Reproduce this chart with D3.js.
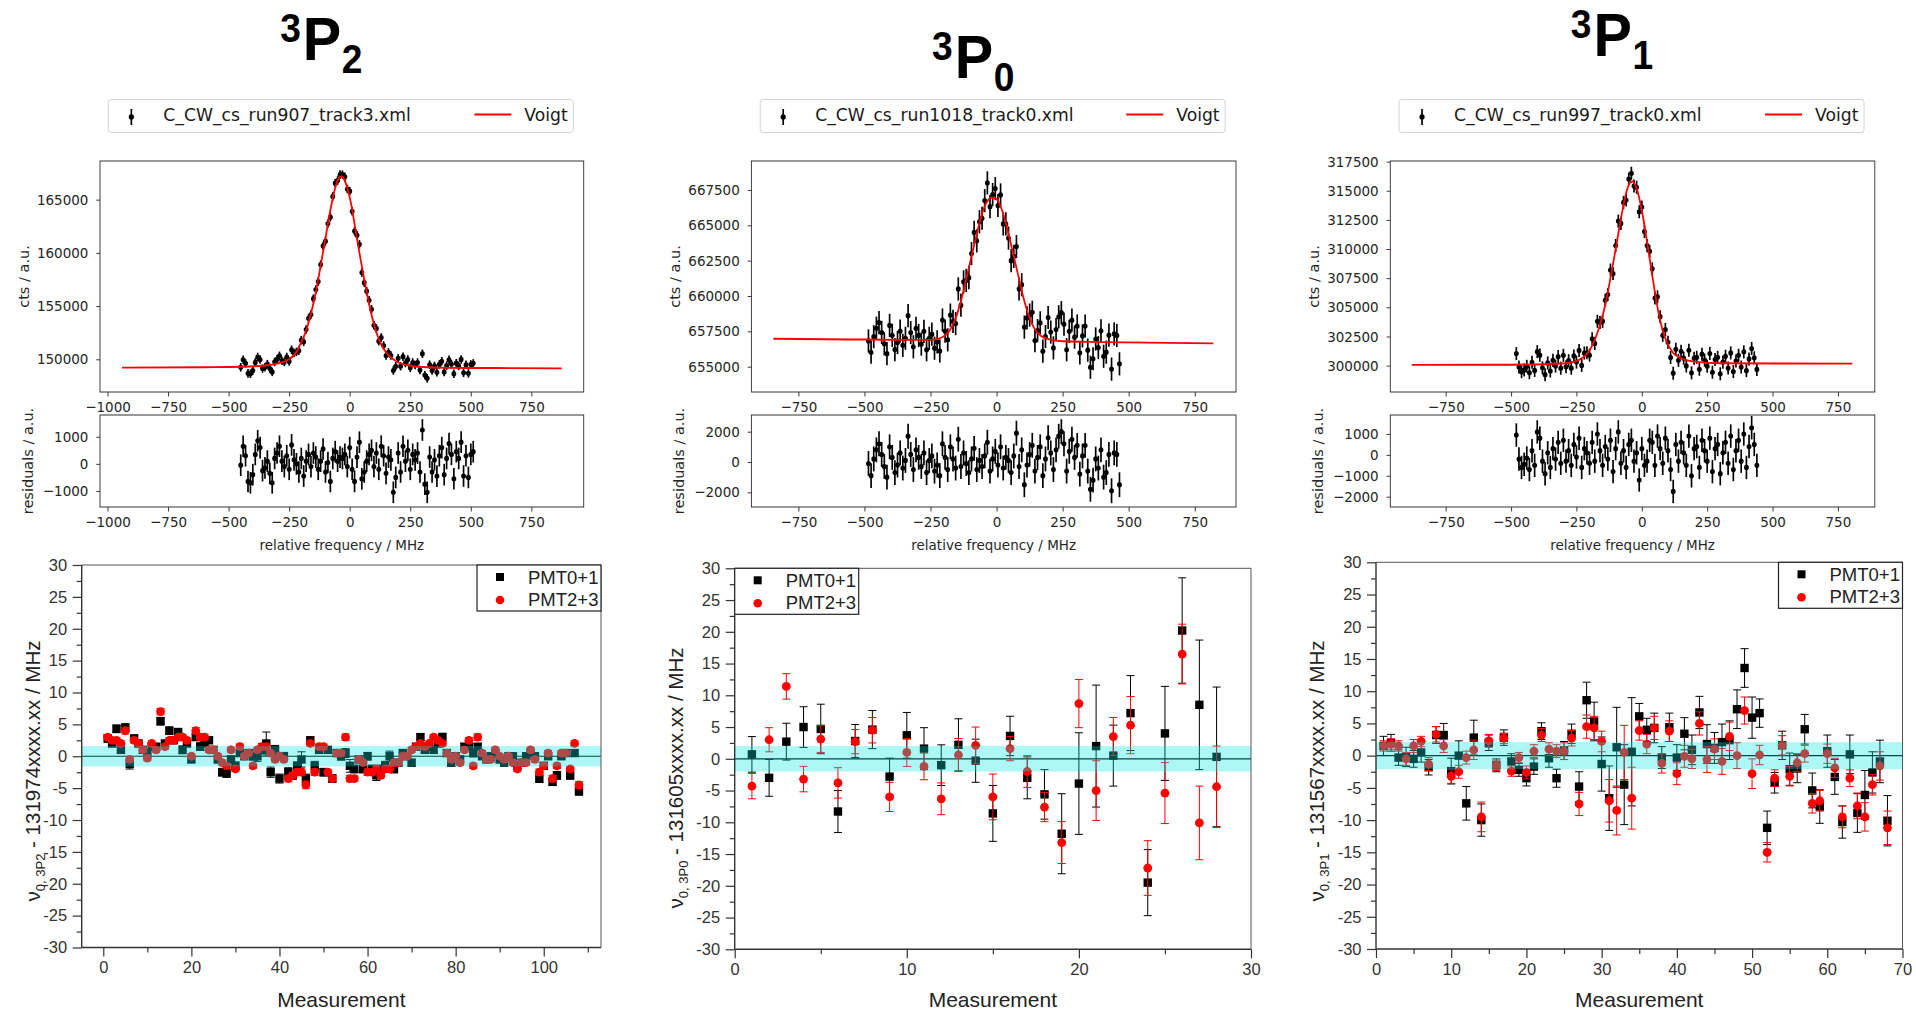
<!DOCTYPE html>
<html>
<head>
<meta charset="utf-8">
<script src="https://cdn.jsdelivr.net/npm/d3@7"></script>
<style>
  body { margin: 0; background: #fff; }
  svg { display: block; }
</style>
</head>
<body>
<svg id="chart" width="1916" height="1013"></svg>
<script>
// ---------------- Spectra: counts vs. relative frequency (MHz) ----------------
const scanFiles = ["C_CW_cs_run907_track3.xml", "C_CW_cs_run1018_track0.xml", "C_CW_cs_run997_track0.xml"];
const levelSup = ["3", "3", "3"];
const levelTerm = ["P", "P", "P"];
const levelSub = ["2", "0", "1"];

const freq1 = [-450,-440,-430,-420,-410,-400,-390,-380,-370,-360,
  -350,-340,-330,-320,-310,-300,-290,-280,-270,-260,
  -250,-240,-230,-220,-210,-200,-190,-180,-170,-160,
  -150,-140,-130,-120,-110,-100,-90,-80,-70,-60,
  -50,-40,-30,-20,-10,0,10,20,30,40,
  50,60,70,80,90,100,110,120,130,140,
  150,160,170,180,190,200,210,220,230,240,
  250,260,270,280,290,300,310,320,330,340,
  350,360,370,380,390,400,410,420,430,440,
  450,460,470,480,490,500,510];
const counts1 = [149250,149960,149620,148680,148640,148950,149710,150220,149980,149140,
  149250,149550,149130,148820,149760,150000,150330,149860,149750,150220,
  149800,150900,150600,150700,150800,151800,151650,152800,153850,154200,
  155700,156550,157300,158900,160650,161100,162750,163350,165300,166550,
  166800,167350,167350,167150,166000,165800,163900,162050,161650,160800,
  158150,157200,156400,155550,154700,153200,152900,151700,152050,151300,
  150350,150650,150350,148950,149350,150100,149350,150250,149650,149980,
  149200,149700,149470,149700,148990,150530,148520,148210,149500,148940,
  149380,148780,149520,149820,148810,149400,149950,149550,148650,149640,
  149390,149990,148730,149480,148680,149520,149620];
const resid1 = [-50,650,300,-650,-700,-400,350,850,600,-250,
  -150,100,-350,-700,200,400,650,100,-100,300,
  -200,700,150,0,-300,200,-450,100,350,-100,
  400,250,-200,100,550,-300,50,-650,200,450,
  100,250,200,350,-100,600,-200,-650,250,800,
  -550,-300,100,350,500,-100,400,-200,650,300,
  -350,250,150,-1050,-500,400,-300,650,100,500,
  -200,350,150,400,-300,1250,-750,-1050,250,-300,
  150,-450,300,600,-400,200,750,350,-550,450,
  200,800,-450,300,-500,350,450];
const fitFreq1 = [-940,-600,-450,-350,-300,-250,-220,-200,-180,-160,
  -140,-120,-100,-80,-60,-45,-35,-25,-10,5,
  20,40,60,80,100,120,140,160,180,200,
  250,300,400,600,875];
const fitCounts1 = [149220,149260,149300,149420,149600,150000,150700,151600,152700,154300,
  156300,158800,161400,164000,166100,167000,167200,167000,166100,164700,
  162700,160000,157500,155200,153300,151900,151000,150400,150000,149700,
  149400,149280,149200,149180,149150];

const freq2 = [-485,-475,-465,-455,-445,-435,-425,-415,-405,-395,
  -385,-375,-365,-355,-345,-335,-325,-315,-305,-295,
  -285,-275,-265,-255,-245,-235,-225,-215,-205,-195,
  -185,-175,-165,-155,-145,-135,-125,-115,-105,-95,
  -85,-75,-65,-55,-45,-35,-25,-15,-5,5,
  15,25,35,45,55,65,75,85,95,105,
  115,125,135,145,155,165,175,185,195,205,
  215,225,235,245,255,265,275,285,295,305,
  315,325,335,345,355,365,375,385,395,405,
  415,425,435,445,455,465];
const counts2 = [656820,656020,657120,657720,658120,657420,656620,655920,657920,657220,
  656210,656710,657510,656510,657010,658610,657410,656410,657710,657210,
  656600,657500,656200,657000,657300,656310,656750,656110,658300,657520,
  656900,658650,658200,658050,660500,659350,661000,661100,661300,663000,
  664500,663900,665250,665500,666750,668000,666320,667180,667600,666400,
  667150,665100,665100,664100,662500,662800,663500,660500,660800,657800,
  658450,658650,658850,656850,657550,658100,656100,657130,658480,657450,
  656330,657630,658530,658820,658010,656200,657500,658290,657090,657880,
  655980,657180,657880,656170,654960,655560,656960,656350,657540,655740,
  656030,657230,654830,657320,657210,655200];
const resid2 = [-100,-900,200,800,1200,500,-300,-1000,1000,300,
  -700,-200,600,-400,100,1700,500,-500,800,300,
  -300,600,-700,100,400,-600,-200,-900,1200,300,
  -500,1000,200,-400,1500,-300,600,-100,-700,200,
  900,-500,100,-300,400,1300,-600,200,700,-200,
  1000,-400,300,100,-700,400,1900,-300,800,-1500,
  -200,500,1100,-600,300,1000,-900,200,1600,600,
  -500,800,1700,2000,1200,-600,700,1500,300,1100,
  -800,400,1100,-600,-1800,-1200,200,-400,800,-1000,
  -700,500,-1900,600,500,-1500];
const fitFreq2 = [-845,-500,-300,-250,-225,-200,-180,-160,-140,-120,
  -100,-80,-60,-40,-20,-10,0,20,40,60,
  80,100,120,140,160,180,200,250,400,820];
const fitCounts2 = [656980,656920,656900,656900,656950,657150,657500,658200,659300,660800,
  662400,664000,665500,666550,666950,666950,666850,666100,664800,663200,
  661600,660000,658700,657800,657300,657050,656930,656800,656740,656650];

const freq3 = [-480,-470,-460,-450,-440,-430,-420,-410,-400,-390,
  -380,-370,-360,-350,-340,-330,-320,-310,-300,-290,
  -280,-270,-260,-250,-240,-230,-220,-210,-200,-190,
  -180,-170,-160,-150,-140,-130,-120,-110,-100,-90,
  -80,-70,-60,-50,-40,-30,-20,-10,0,10,
  20,30,40,50,60,70,80,90,100,110,
  120,130,140,150,160,170,180,190,200,210,
  220,230,240,250,260,270,280,290,300,310,
  320,330,340,350,360,370,380,390,400,410,
  420,430,440];
const counts3 = [301030,299880,299480,299630,299940,299390,300290,299590,301200,300900,
  299810,299220,300230,299540,300450,299960,300770,299780,300880,299900,
  300430,299780,300830,300300,301300,300020,301080,301100,300900,302300,
  301900,303800,303700,303800,305600,306100,308200,307900,310300,312400,
  312200,314000,314200,316000,316500,315400,315300,313200,313600,311500,
  310300,309800,308300,305800,305900,304200,302600,303100,302000,300700,
  299350,301400,300450,301230,300640,299970,301320,299380,300640,300710,
  299690,300980,300470,299950,301040,299430,300520,300710,299300,300300,
  300800,299790,301090,299490,300390,300890,299880,301180,299570,300570,
  301470,300670,299670];
const resid3 = [950,-200,-600,-450,-150,-700,200,-500,1100,800,
  -300,-900,100,-600,300,-200,600,-400,700,-300,
  200,-500,500,-100,800,-600,300,100,-400,600,
  -300,1000,200,-500,400,-200,700,-800,300,1100,
  -400,200,-600,500,700,-300,100,-1200,300,-500,
  -300,700,600,-500,900,300,-400,800,200,-700,
  -1750,500,-300,600,100,-500,900,-1000,300,400,
  -600,700,200,-300,800,-800,300,500,-900,100,
  600,-400,900,-700,200,700,-300,1000,-600,400,
  1300,500,-500];
const fitFreq3 = [-880,-500,-300,-260,-240,-220,-200,-180,-160,-140,
  -120,-100,-80,-60,-45,-35,-20,0,20,40,
  60,80,100,120,140,160,200,300,805];
const fitCounts3 = [300060,300080,300180,300330,300500,300780,301300,302200,303500,305200,
  307500,310000,312600,314800,315700,315800,315200,313300,310600,307700,
  305000,303000,301800,301100,300750,300540,300340,300200,300170];

// counting uncertainty of a single bin, per scan
const countErr = [400, 820, 560];

const freqTicks = [-1000, -750, -500, -250, 0, 250, 500, 750];
const countTicks1 = [150000, 155000, 160000, 165000];
const countTicks2 = [655000, 657500, 660000, 662500, 665000, 667500];
const countTicks3 = [300000, 302500, 305000, 307500, 310000, 312500, 315000, 317500];
const residTicks1 = [-1000, 0, 1000];
const residTicks2 = [-2000, 0, 2000];
const residTicks3 = [-2000, -1000, 0, 1000];

// ---------------- Centroid per measurement, two detector pairs ----------------
const pmtA1 = [2.8,2.0,4.3,1.0,4.5,-1.2,2.8,2.0,1.0,0.5,
  1.5,1.5,5.5,2.0,4.0,2.5,3.8,1.0,2.0,-0.5,
  3.0,1.5,2.0,2.5,1.0,-0.5,-2.5,-2.7,-0.5,-1.5,
  0.5,0.0,0.5,0.0,0.0,1.0,2.0,-2.5,1.0,-3.5,
  0.0,-2.5,-3.0,-1.5,-0.5,-3.5,2.5,-1.5,1.0,-2.5,
  1.0,-3.5,0.5,0.0,0.5,-1.5,-2.0,-0.5,-2.0,0.0,
  -2.0,-3.0,-2.0,-1.5,0.0,-2.0,-1.0,0.5,0.0,-1.0,
  1.5,3.0,1.0,1.5,1.0,2.0,3.0,0.5,-1.0,0.0,
  -0.5,1.5,1.5,0.5,1.5,0.0,-0.5,0.0,0.5,-0.5,
  -1.0,0.0,0.0,-1.5,-1.0,0.0,0.5,0.0,-3.5,-1.5,
  0.0,-4.0,-3.0,0.0,0.5,-3.0,0.5,-5.5];
const errA1 = [0.6,0.5,0.6,0.5,0.6,0.8,0.5,0.5,0.5,0.5,
  0.5,0.5,0.6,0.5,0.6,0.5,0.5,0.6,0.5,0.5,
  0.5,0.6,0.5,0.5,0.5,0.5,0.6,0.6,0.5,0.6,
  0.5,0.5,0.5,0.6,0.8,0.6,1.8,0.8,0.7,0.7,
  0.6,0.7,0.6,0.6,1.2,0.7,0.6,0.7,0.5,0.6,
  0.5,0.6,0.5,0.6,0.7,1.0,0.6,0.5,0.6,0.6,
  0.6,0.8,0.6,0.7,0.8,0.6,0.5,0.5,0.5,0.5,
  0.5,0.5,0.5,0.5,0.5,0.5,0.6,0.5,0.5,0.5,
  0.5,0.5,0.5,0.6,0.5,0.5,0.5,0.5,0.5,0.5,
  0.5,0.5,0.5,0.5,0.5,0.5,0.6,0.5,0.6,0.5,
  0.5,0.6,0.6,0.5,0.5,0.6,0.5,0.6];
const pmtB1 = [3.0,2.5,2.5,2.0,4.0,-0.5,2.5,2.0,1.0,-0.3,
  2.0,1.0,7.0,1.5,2.5,2.5,3.0,3.0,2.5,0.0,
  4.0,3.0,3.0,1.0,1.0,0.0,-1.0,-1.5,1.0,-2.0,
  1.5,0.0,0.5,-1.5,1.0,1.5,1.5,0.5,-0.5,0.0,
  -0.5,-3.5,-3.0,-2.5,-2.5,-4.5,2.0,-2.5,1.5,1.5,
  -2.5,-3.5,0.5,0.5,3.0,-3.5,-3.5,-0.5,-1.0,-2.5,
  -2.5,-2.0,-3.0,-2.0,-2.0,-1.0,-1.0,0.0,0.0,1.0,
  1.5,2.0,1.5,2.0,3.0,2.5,2.0,0.5,-0.5,0.0,
  -1.0,1.0,2.5,-1.5,3.0,0.5,-0.5,-0.5,1.0,0.0,
  -0.5,0.0,-1.0,-2.0,-1.0,-1.0,1.0,-0.5,-2.5,-1.5,
  0.5,-3.5,-1.5,0.5,0.5,-2.0,2.0,-4.5];
const errB1 = [0.4,0.4,0.4,0.4,0.5,0.4,0.4,0.4,0.4,0.4,
  0.4,0.4,0.5,0.4,0.4,0.4,0.4,0.4,0.4,0.4,
  0.5,0.4,0.4,0.4,0.4,0.4,0.4,0.4,0.4,0.4,
  0.4,0.4,0.4,0.4,0.4,0.5,0.5,0.4,0.4,0.5,
  0.4,0.5,0.4,0.5,0.5,0.6,0.4,0.5,0.4,0.4,
  0.4,0.5,0.4,0.4,0.5,0.5,0.4,0.4,0.4,0.5,
  0.4,0.5,0.4,0.4,0.5,0.4,0.4,0.4,0.4,0.4,
  0.4,0.4,0.4,0.4,0.4,0.4,0.4,0.4,0.4,0.4,
  0.4,0.4,0.4,0.4,0.5,0.4,0.4,0.4,0.4,0.4,
  0.4,0.4,0.4,0.4,0.4,0.4,0.4,0.4,0.5,0.4,
  0.4,0.5,0.4,0.4,0.4,0.4,0.4,0.5];

const pmtA2 = [0.7,-3.0,2.7,5.0,4.7,-8.3,2.8,4.6,-2.8,3.7,
  1.6,-1.0,2.2,-0.3,-8.6,3.6,-3.0,-5.6,-11.8,-3.9,
  2.0,0.5,7.2,-19.5,4.0,20.2,8.5,0.3];
const errA2 = [2.8,2.9,2.9,3.2,3.9,3.3,2.6,3.0,2.9,3.6,
  3.3,3.2,4.1,3.4,4.4,3.1,3.3,3.9,6.3,8.0,
  9.6,4.8,5.9,5.2,7.4,8.3,10.2,11.0];
const pmtB2 = [-4.3,3.0,11.4,-3.2,3.1,-3.8,2.7,4.5,-6.0,1.0,
  -1.2,-6.3,0.6,2.1,-6.0,1.6,-2.0,-7.6,-13.2,8.7,
  -5.0,3.5,5.3,-17.2,-5.4,16.5,-10.1,-4.4];
const errB2 = [2.0,1.9,2.0,2.0,2.1,2.4,1.9,2.0,2.3,2.2,
  2.1,2.5,2.6,2.9,3.6,1.9,2.5,2.3,3.3,3.8,
  4.7,3.0,4.5,4.3,4.8,4.7,5.8,6.4];

const pmtA3 = [1.5,2.0,-0.3,-0.2,-0.5,0.5,-1.8,3.2,3.2,-2.4,
  0.0,-7.4,2.8,-10.0,2.0,-1.5,2.8,-0.9,-2.2,-3.5,
  -1.7,3.8,-0.4,-3.5,0.8,3.4,-4.8,8.6,5.3,-1.3,
  -6.6,1.3,-4.5,0.6,6.1,4.0,4.3,-0.3,4.4,-0.3,
  3.4,0.9,6.7,1.8,1.2,2.1,2.4,7.2,13.6,5.9,
  6.6,-11.2,-4.2,1.6,-2.1,-2.0,4.1,-5.4,-7.9,0.7,
  -3.3,-10.3,0.2,-8.9,-6.1,-2.6,-0.9,-10.1];
const errA3 = [1.5,1.3,1.2,1.5,1.3,1.5,1.2,1.3,1.8,2.0,
  2.3,2.6,2.7,2.5,1.2,1.0,1.2,1.2,1.0,1.2,
  1.2,1.3,1.4,1.4,1.4,1.5,2.3,2.8,3.0,4.2,
  5.0,6.2,6.2,8.4,2.0,1.8,2.3,1.7,2.2,2.0,
  2.5,2.3,2.5,3.0,2.4,2.8,3.0,3.0,3.0,3.2,
  2.2,2.6,1.6,2.2,2.5,2.2,2.3,2.7,2.6,2.5,
  2.7,2.5,3.0,3.0,3.8,3.2,3.3,3.9];
const pmtB3 = [1.5,1.8,1.5,-0.5,1.5,2.2,-1.3,3.3,1.5,-3.2,
  -2.5,-0.3,0.9,-9.5,2.3,-1.5,2.7,-2.4,-0.3,-2.6,
  0.7,3.2,1.0,0.7,0.7,2.7,-7.5,4.5,4.3,2.2,
  -7.0,-8.5,0.5,-6.6,3.9,1.8,4.3,-1.2,3.8,-2.8,
  -0.1,-0.5,5.0,-0.6,1.0,-0.9,3.0,0.0,7.0,-2.8,
  0.1,-15.0,-3.5,1.6,-3.2,-1.1,0.3,-7.4,-7.0,0.3,
  -1.9,-9.5,-3.5,-7.8,-9.5,-4.5,-1.6,-11.2];
const errB3 = [0.8,0.8,0.8,1.0,1.0,0.8,1.0,1.2,1.0,1.1,
  1.0,1.0,1.5,2.3,1.0,0.8,0.8,0.8,0.8,1.0,
  1.0,1.0,1.0,1.0,1.3,1.2,1.8,1.8,1.8,1.6,
  3.3,3.8,4.2,4.8,1.5,1.5,1.8,1.5,1.6,1.7,
  1.7,1.5,1.8,2.0,1.6,2.0,2.2,2.0,2.1,2.3,
  1.5,1.5,1.3,1.5,1.5,1.4,1.3,1.5,1.6,1.5,
  1.5,1.7,1.3,2.0,2.2,1.6,2.2,2.6];

// weighted-mean uncertainty band (MHz) and frequency offsets of each level
const bandHalfWidth = [1.6, 2.0, 2.1];
const offsetLabels = ["131974xxxx.xx", "131605xxxx.xx", "131567xxxx.xx"];
const subLabels = ["0, 3P2", "0, 3P0", "0, 3P1"];
const seriesNames = ["PMT0+1", "PMT2+3"];
const runTicks1 = [0, 20, 40, 60, 80, 100];
const runTicks2 = [0, 10, 20, 30];
const runTicks3 = [0, 10, 20, 30, 40, 50, 60, 70];
const shiftTicks = [-30, -25, -20, -15, -10, -5, 0, 5, 10, 15, 20, 25, 30];

// ============================ drawing ============================
const svg = d3.select("#chart");
const MPL = "'DejaVu Sans', sans-serif";
const ARIAL = "'Liberation Sans', Arial, sans-serif";
const K = 0.93; // horizontal squeeze of the upper (spectrum) block
const upper = svg.append("g").attr("transform", `scale(${K},1)`);

const scans = [
  {freq: freq1, counts: counts1, resid: resid1, fitF: fitFreq1, fitC: fitCounts1,
   left: 100, right: 583.7, xDomain: [-1031, 966], yDomain: [146930, 168630], rDomain: [-1593, 1804],
   yTicks: countTicks1, rTicks: residTicks1, titleBase: 60},
  {freq: freq2, counts: counts2, resid: resid2, fitF: fitFreq2, fitC: fitCounts2,
   left: 751.4, right: 1236, xDomain: [-928, 906], yDomain: [653210, 669550], rDomain: [-2970, 3100],
   yTicks: countTicks2, rTicks: residTicks2, titleBase: 78},
  {freq: freq3, counts: counts3, resid: resid3, fitF: fitFreq3, fitC: fitCounts3,
   left: 1390.3, right: 1874.8, xDomain: [-962, 891], yDomain: [297737, 317552], rDomain: [-2493, 1909],
   yTicks: countTicks3, rTicks: residTicks3, titleBase: 56}
];

function styleMpl(sel) {
  sel.select(".domain").remove();
  sel.selectAll(".tick line").attr("stroke", "#333").attr("stroke-width", 1);
  sel.selectAll(".tick text").attr("fill", "#262626").attr("font-family", MPL).attr("font-size", 14.5);
}

scans.forEach((s, i) => {
  const L = s.left / K, R = s.right / K, cx = (L + R) / 2;
  const x = d3.scaleLinear().domain(s.xDomain).range([L, R]);
  const y = d3.scaleLinear().domain(s.yDomain).range([392, 161]);
  const yr = d3.scaleLinear().domain(s.rDomain).range([507, 415]);
  const g = upper.append("g");
  const idx = d3.range(s.freq.length);
  const e = countErr[i];
  const xt = freqTicks.filter(v => v >= s.xDomain[0] && v <= s.xDomain[1]);

  // title  ^3P_J
  const tx = (s.left + s.right) / 2 / K - 39 / K;
  g.append("text").attr("x", tx - 2 / K).attr("y", s.titleBase - 18).attr("text-anchor", "end")
    .attr("font-family", ARIAL).attr("font-weight", "bold").attr("font-size", 40).text(levelSup[i]);
  g.append("text").attr("x", tx).attr("y", s.titleBase)
    .attr("font-family", ARIAL).attr("font-weight", "bold").attr("font-size", 62).text(levelTerm[i]);
  g.append("text").attr("x", tx + 39 / K).attr("y", s.titleBase + 13)
    .attr("font-family", ARIAL).attr("font-weight", "bold").attr("font-size", 40).text(levelSub[i]);

  // legend
  const lb = (s.left + s.right) / 2 - 1 - 232.5;
  const lg = g.append("g");
  lg.append("rect").attr("x", lb / K).attr("y", 99.5).attr("width", 465 / K).attr("height", 33)
    .attr("rx", 3 / K).attr("ry", 3).attr("fill", "#fff").attr("stroke", "#d0d0d0");
  lg.append("line").attr("x1", (lb + 23) / K).attr("x2", (lb + 23) / K).attr("y1", 109).attr("y2", 125)
    .attr("stroke", "#000").attr("stroke-width", 1.8);
  lg.append("circle").attr("cx", (lb + 23) / K).attr("cy", 117).attr("r", 2.8).attr("fill", "#000");
  lg.append("text").attr("x", (lb + 55) / K).attr("y", 121).attr("font-family", MPL).attr("font-size", 18.5)
    .attr("fill", "#1a1a1a").text(scanFiles[i]);
  lg.append("line").attr("x1", (lb + 366) / K).attr("x2", (lb + 403) / K).attr("y1", 114.5).attr("y2", 114.5)
    .attr("stroke", "#ff0000").attr("stroke-width", 2);
  lg.append("text").attr("x", (lb + 416) / K).attr("y", 121).attr("font-family", MPL).attr("font-size", 18.5)
    .attr("fill", "#1a1a1a").text("Voigt");

  // spectrum panel
  const pts = g.append("g");
  pts.selectAll("line").data(idx).join("line")
    .attr("x1", j => x(s.freq[j])).attr("x2", j => x(s.freq[j]))
    .attr("y1", j => y(s.counts[j] - e)).attr("y2", j => y(s.counts[j] + e))
    .attr("stroke", "#000").attr("stroke-width", 1.8);
  pts.selectAll("circle").data(idx).join("circle")
    .attr("cx", j => x(s.freq[j])).attr("cy", j => y(s.counts[j])).attr("r", 2.6).attr("fill", "#000");
  const fitLine = d3.line().x(j => x(s.fitF[j])).y(j => y(s.fitC[j])).curve(d3.curveMonotoneX);
  g.append("path").attr("d", fitLine(d3.range(s.fitF.length)))
    .attr("fill", "none").attr("stroke", "#ff0000").attr("stroke-width", 1.9);
  g.append("rect").attr("x", L).attr("y", 161).attr("width", R - L).attr("height", 231)
    .attr("fill", "none").attr("stroke", "#333").attr("stroke-width", 1);
  g.append("g").attr("transform", "translate(0,392)")
    .call(d3.axisBottom(x).tickValues(xt).tickSize(4.5).tickPadding(5).tickFormat(d3.format("d"))).call(styleMpl);
  g.append("g").attr("transform", `translate(${L},0)`)
    .call(d3.axisLeft(y).tickValues(s.yTicks).tickSize(4).tickPadding(8.5).tickFormat(d3.format("d"))).call(styleMpl);
  g.append("text").attr("transform", `translate(${(s.left - 71) / K},276.5) rotate(-90)`)
    .attr("text-anchor", "middle").attr("font-family", MPL).attr("font-size", 14.5).attr("fill", "#262626")
    .text("cts / a.u.");

  // residual panel
  const rp = g.append("g");
  rp.selectAll("line").data(idx).join("line")
    .attr("x1", j => x(s.freq[j])).attr("x2", j => x(s.freq[j]))
    .attr("y1", j => yr(s.resid[j] - e)).attr("y2", j => yr(s.resid[j] + e))
    .attr("stroke", "#000").attr("stroke-width", 1.8);
  rp.selectAll("circle").data(idx).join("circle")
    .attr("cx", j => x(s.freq[j])).attr("cy", j => yr(s.resid[j])).attr("r", 2.6).attr("fill", "#000");
  g.append("rect").attr("x", L).attr("y", 415).attr("width", R - L).attr("height", 92)
    .attr("fill", "none").attr("stroke", "#333").attr("stroke-width", 1);
  g.append("g").attr("transform", "translate(0,507)")
    .call(d3.axisBottom(x).tickValues(xt).tickSize(4.5).tickPadding(5).tickFormat(d3.format("d"))).call(styleMpl);
  g.append("g").attr("transform", `translate(${L},0)`)
    .call(d3.axisLeft(yr).tickValues(s.rTicks).tickSize(4).tickPadding(8.5).tickFormat(d3.format("d"))).call(styleMpl);
  g.append("text").attr("transform", `translate(${(s.left - 67) / K},461) rotate(-90)`)
    .attr("text-anchor", "middle").attr("font-family", MPL).attr("font-size", 14.5).attr("fill", "#262626")
    .text("residuals / a.u.");
  g.append("text").attr("x", cx).attr("y", 550).attr("text-anchor", "middle")
    .attr("font-family", MPL).attr("font-size", 14.5).attr("fill", "#262626").text("relative frequency / MHz");
});

// ---------------- lower block: centroid per measurement ----------------
const runs = [
  {a: pmtA1, ea: errA1, b: pmtB1, eb: errB1, left: 81.7, right: 601, top: 565, bottom: 947.5,
   xDomain: [-4.9, 113], major: runTicks1, minorStep: 10, legend: "right", labelX: 40, labelY: 771},
  {a: pmtA2, ea: errA2, b: pmtB2, eb: errB2, left: 734.7, right: 1251, top: 568.3, bottom: 949.3,
   xDomain: [0, 30], major: runTicks2, minorStep: 5, legend: "left", labelX: 683, labelY: 778},
  {a: pmtA3, ea: errA3, b: pmtB3, eb: errB3, left: 1376, right: 1902.5, top: 562.3, bottom: 949,
   xDomain: [0, 70], major: runTicks3, minorStep: 5, legend: "right", labelX: 1324, labelY: 771}
];

function styleOrigin(sel, withText) {
  sel.select(".domain").remove();
  sel.selectAll(".tick line").attr("stroke", "#333").attr("stroke-width", 1.2);
  if (withText) sel.selectAll(".tick text").attr("fill", "#333").attr("font-family", ARIAL).attr("font-size", 16.5);
  else sel.selectAll(".tick text").remove();
}

runs.forEach((r, i) => {
  const x = d3.scaleLinear().domain(r.xDomain).range([r.left, r.right]);
  const y = d3.scaleLinear().domain([-30, 30]).range([r.bottom, r.top]);
  const g = svg.append("g");
  const meas = d3.range(1, r.a.length + 1);

  g.append("line").attr("x1", r.left).attr("x2", r.right).attr("y1", y(0)).attr("y2", y(0))
    .attr("stroke", "#000").attr("stroke-width", 1.2);

  const series = [
    {v: r.a, e: r.ea, color: "#000", shape: "square"},
    {v: r.b, e: r.eb, color: "#ff0000", shape: "circle"}
  ];
  series.forEach(s => {
    const sg = g.append("g");
    const bars = sg.selectAll("g.bar").data(meas).join("g").attr("class", "bar");
    bars.append("line").attr("x1", m => x(m)).attr("x2", m => x(m))
      .attr("y1", m => y(s.v[m - 1] - s.e[m - 1])).attr("y2", m => y(s.v[m - 1] + s.e[m - 1]));
    bars.append("line").attr("x1", m => x(m) - 4).attr("x2", m => x(m) + 4)
      .attr("y1", m => y(s.v[m - 1] + s.e[m - 1])).attr("y2", m => y(s.v[m - 1] + s.e[m - 1]));
    bars.append("line").attr("x1", m => x(m) - 4).attr("x2", m => x(m) + 4)
      .attr("y1", m => y(s.v[m - 1] - s.e[m - 1])).attr("y2", m => y(s.v[m - 1] - s.e[m - 1]));
    bars.selectAll("line").attr("stroke", s.color).attr("stroke-width", 1);
    if (s.shape === "square") {
      sg.selectAll("rect").data(meas).join("rect")
        .attr("x", m => x(m) - 4.2).attr("y", m => y(s.v[m - 1]) - 4.2)
        .attr("width", 8.4).attr("height", 8.4).attr("fill", s.color);
    } else {
      sg.selectAll("circle").data(meas).join("circle")
        .attr("cx", m => x(m)).attr("cy", m => y(s.v[m - 1])).attr("r", 4.4).attr("fill", s.color);
    }
  });

  // uncertainty band laid over the points
  g.append("rect").attr("x", r.left).attr("width", r.right - r.left)
    .attr("y", y(bandHalfWidth[i])).attr("height", y(-bandHalfWidth[i]) - y(bandHalfWidth[i]))
    .attr("fill", "#00e6e6").attr("fill-opacity", 0.32);

  // frame
  g.append("line").attr("x1", r.left).attr("x2", r.right).attr("y1", r.top).attr("y2", r.top).attr("stroke", "#555").attr("stroke-width", 1);
  g.append("line").attr("x1", r.right).attr("x2", r.right).attr("y1", r.top).attr("y2", r.bottom).attr("stroke", "#555").attr("stroke-width", 1);
  g.append("line").attr("x1", r.left).attr("x2", r.right).attr("y1", r.bottom).attr("y2", r.bottom).attr("stroke", "#333").attr("stroke-width", 1.4);
  g.append("line").attr("x1", r.left).attr("x2", r.left).attr("y1", r.top).attr("y2", r.bottom).attr("stroke", "#333").attr("stroke-width", 1.4);

  // axes
  const minorX = d3.range(Math.ceil(r.xDomain[0] / r.minorStep) * r.minorStep, r.xDomain[1], r.minorStep)
    .filter(v => !r.major.includes(v));
  g.append("g").attr("transform", `translate(0,${r.bottom})`)
    .call(d3.axisBottom(x).tickValues(r.major).tickSize(9).tickPadding(5).tickFormat(d3.format("d"))).call(s => styleOrigin(s, true));
  g.append("g").attr("transform", `translate(0,${r.bottom})`)
    .call(d3.axisBottom(x).tickValues(minorX).tickSize(5)).call(s => styleOrigin(s, false));
  g.append("g").attr("transform", `translate(${r.left},0)`)
    .call(d3.axisLeft(y).tickValues(shiftTicks).tickSize(9).tickPadding(5.5).tickFormat(d => String(d))).call(s => styleOrigin(s, true));
  g.append("g").attr("transform", `translate(${r.left},0)`)
    .call(d3.axisLeft(y).tickValues(shiftTicks.slice(0, -1).map(v => v + 2.5)).tickSize(5)).call(s => styleOrigin(s, false));

  // axis titles
  g.append("text").attr("x", (r.left + r.right) / 2).attr("y", 1006.5).attr("text-anchor", "middle")
    .attr("font-family", ARIAL).attr("font-size", 21).attr("fill", "#222").text("Measurement");
  const yl = g.append("text").attr("transform", `translate(${r.labelX},${r.labelY}) rotate(-90)`)
    .attr("text-anchor", "middle").attr("font-family", ARIAL).attr("font-size", 20.5).attr("fill", "#222");
  yl.append("tspan").text("ν");
  yl.append("tspan").attr("font-size", 13).attr("dy", 5).text(subLabels[i]);
  yl.append("tspan").attr("dy", -5).text(" - " + offsetLabels[i] + " / MHz");

  // legend
  const lw = 124, lh = 46;
  const lx = r.legend === "right" ? r.right - lw : r.left;
  const ly = r.top;
  const lg = g.append("g");
  lg.append("rect").attr("x", lx).attr("y", ly).attr("width", lw).attr("height", lh)
    .attr("fill", "#fff").attr("stroke", "#222").attr("stroke-width", 1.2);
  lg.append("rect").attr("x", lx + 23 - 4).attr("y", ly + 12 - 4).attr("width", 8).attr("height", 8).attr("fill", "#000");
  lg.append("circle").attr("cx", lx + 23).attr("cy", ly + 35).attr("r", 4.3).attr("fill", "#ff0000");
  seriesNames.forEach((n, k) => {
    lg.append("text").attr("x", lx + 51).attr("y", ly + 18.5 + k * 22.5)
      .attr("font-family", ARIAL).attr("font-size", 18.5).attr("fill", "#222").text(n);
  });
});
</script>
</body>
</html>
